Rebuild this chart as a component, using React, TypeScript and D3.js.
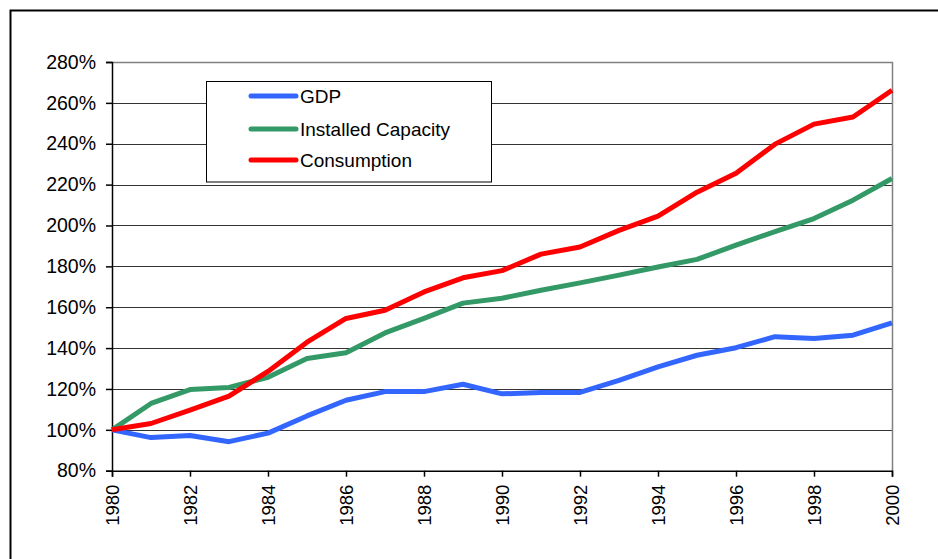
import { useRef, useEffect } from "react";
import * as d3 from "d3";

const years = d3.range(1980, 2001);
const yTicks = [80, 100, 120, 140, 160, 180, 200, 220, 240, 260, 280];

const gdp = [100, 96.2, 97.2, 94.2, 98.4, 106.8, 114.5, 118.7, 118.7, 122.3, 117.6, 118.3, 118.3, 124.2, 130.8, 136.5, 140.2, 145.6, 144.7, 146.3, 152.3];
const capacity = [100, 112.9, 119.7, 120.7, 125.7, 134.9, 137.7, 147.4, 154.5, 162.0, 164.4, 168.3, 171.9, 175.7, 179.7, 183.4, 190.4, 197.0, 203.4, 212.4, 223.0];
const consumption = [100, 103.1, 109.6, 116.5, 128.6, 142.9, 154.5, 158.5, 167.5, 174.4, 177.9, 186.0, 189.5, 197.6, 204.6, 216.3, 225.5, 239.8, 249.6, 253.1, 266.2];

const series = [
  { name: "GDP", color: "#3366ff", values: gdp },
  { name: "Installed Capacity", color: "#339966", values: capacity },
  { name: "Consumption", color: "#ff0000", values: consumption },
];

export default function App() {
  const svgRef = useRef<SVGSVGElement>(null);

  useEffect(() => {
    if (!svgRef.current) return;
    const svg = d3.select(svgRef.current);
    svg.selectAll("*").remove();

    const width = 938;
    const height = 559;
    const plot = { left: 112, top: 62, right: 892, bottom: 470.7 };
    const font = "'Liberation Sans', Arial, sans-serif";

    // Outer frame (runs off the right and bottom edges)
    svg
      .append("rect")
      .attr("x", 10.5)
      .attr("y", 10.5)
      .attr("width", width + 20)
      .attr("height", height + 20)
      .attr("fill", "white")
      .attr("stroke", "#000")
      .attr("stroke-width", 2);

    const x = d3.scaleLinear().domain([1980, 2000]).range([plot.left, plot.right]);
    const y = d3.scaleLinear().domain([80, 280]).range([plot.bottom, plot.top]);

    const g = svg.append("g").attr("font-family", font);

    // Grid
    g.selectAll(".grid")
      .data(yTicks.slice(1, -1))
      .join("line")
      .attr("x1", plot.left)
      .attr("x2", plot.right)
      .attr("y1", (d) => Math.round(y(d)) + 0.5)
      .attr("y2", (d) => Math.round(y(d)) + 0.5)
      .attr("stroke", "#333")
      .attr("stroke-width", 1);

    // Plot border (top & right grey)
    g.append("path")
      .attr(
        "d",
        `M${plot.left},${Math.round(plot.top) + 0.5}H${plot.right + 0.5}V${plot.bottom}`
      )
      .attr("fill", "none")
      .attr("stroke", "#808080")
      .attr("stroke-width", 1.5);

    // Y axis
    const yAxis = g
      .append("g")
      .attr("transform", `translate(${plot.left},0)`)
      .call(
        d3
          .axisLeft(y)
          .tickValues(yTicks)
          .tickSize(6)
          .tickPadding(10)
          .tickFormat((d) => `${d}%`)
      );
    yAxis.select(".domain").attr("stroke", "#000").attr("stroke-width", 1.5);
    yAxis.selectAll(".tick line").attr("stroke", "#000").attr("stroke-width", 1.5);
    yAxis
      .selectAll(".tick text")
      .attr("font-size", "19.5px")
      .attr("font-family", font)
      .attr("fill", "#000");

    // X axis
    const xAxis = g
      .append("g")
      .attr("transform", `translate(0,${plot.bottom})`)
      .call(
        d3
          .axisBottom(x)
          .tickValues(years.filter((d) => d % 2 === 0))
          .tickSize(6)
          .tickFormat((d) => `${d}`)
      );
    xAxis.select(".domain").attr("stroke", "#000").attr("stroke-width", 1.5);
    xAxis.selectAll(".tick line").attr("stroke", "#000").attr("stroke-width", 1.5);
    xAxis
      .selectAll(".tick text")
      .attr("font-size", "18.5px")
      .attr("font-family", font)
      .attr("fill", "#000")
      .attr("transform", "rotate(-90)")
      .attr("text-anchor", "end")
      .attr("x", -14)
      .attr("y", 0)
      .attr("dy", "0.35em");

    // Lines
    const line = d3
      .line<number>()
      .x((_, i) => x(years[i]))
      .y((d) => y(d));

    series.forEach((s) => {
      g.append("path")
        .datum(s.values)
        .attr("d", line)
        .attr("fill", "none")
        .attr("stroke", s.color)
        .attr("stroke-width", 5)
        .attr("stroke-linejoin", "round");
    });

    // Legend
    const legend = g.append("g");
    legend
      .append("rect")
      .attr("x", 206.5)
      .attr("y", 81.5)
      .attr("width", 285)
      .attr("height", 100.5)
      .attr("fill", "white")
      .attr("stroke", "#000")
      .attr("stroke-width", 1);

    const rowY = [96, 129, 160];
    series.forEach((s, i) => {
      legend
        .append("line")
        .attr("x1", 251)
        .attr("x2", 296)
        .attr("y1", rowY[i])
        .attr("y2", rowY[i])
        .attr("stroke", s.color)
        .attr("stroke-width", 5)
        .attr("stroke-linecap", "round");
      legend
        .append("text")
        .attr("x", 300)
        .attr("y", rowY[i])
        .attr("dy", "0.35em")
        .attr("font-size", "19px")
        .attr("fill", "#000")
        .text(s.name);
    });
  }, []);

  return (
    <div style={{ position: "absolute", left: 0, top: 0 }}>
      <svg ref={svgRef} width={938} height={559} style={{ display: "block" }} />
    </div>
  );
}
